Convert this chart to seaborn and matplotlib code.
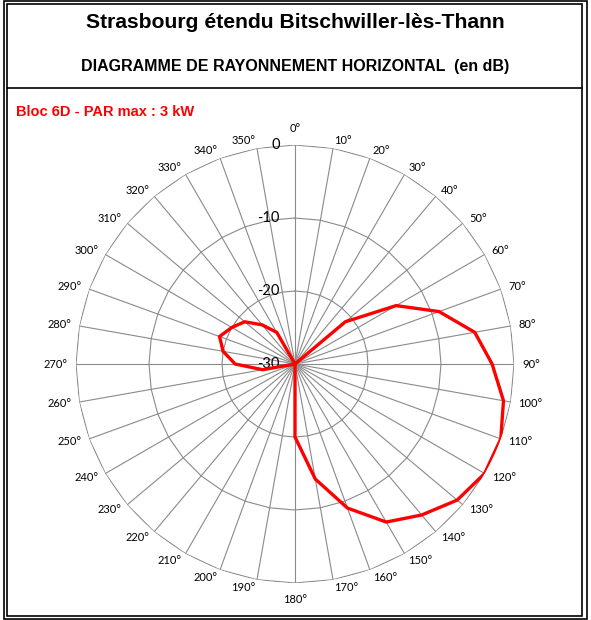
import numpy as np
import pandas as pd
import matplotlib
matplotlib.use("Agg")
import matplotlib.pyplot as plt
from matplotlib.patches import Rectangle
from matplotlib.lines import Line2D
import seaborn as sns

# Chart data
angles_deg = list(range(0, 360, 10))
gain_db = [-30, -30, -30, -30, -30, -21, -14, -9, -5, -3,
           -1, 0, 0, -1, -3, -5, -9, -14, -20, -30,
           -30, -30, -30, -30, -30, -30, -25.5, -21.8, -20, -19,
           -20, -21, -23, -25, -30, -30]
ring_levels = [-20, -10, 0]
r_labels = ["0", "-10", "-20", "-30"]
r_label_levels = [0, -10, -20, -30]
angle_labels = [f"{a}°" for a in angles_deg]

title = "Strasbourg étendu Bitschwiller-lès-Thann"
subtitle = "DIAGRAMME DE RAYONNEMENT HORIZONTAL  (en dB)"
series_name = "Bloc 6D - PAR max : 3 kW"

sns.set_style("white")
plt.rcParams['font.family'] = ['Lato', 'DejaVu Sans']
plt.rcParams['text.color'] = 'black'

W, H = 591, 620
fig = plt.figure(figsize=(W / 100, H / 100), dpi=100)

def fx(px):
    return px / W

def fy(py):
    return 1 - py / H

# polar axes: centre (295, 364), radius 219 px
cx, cy, R = 295, 364, 219
ax = fig.add_axes([fx(cx - R), fy(cy + R), 2 * R / W, 2 * R / H], projection='polar')
ax.set_theta_zero_location('N')
ax.set_theta_direction(-1)
ax.set_ylim(-30, 0)
ax.spines['polar'].set_visible(False)
ax.yaxis.grid(False)
ax.xaxis.grid(True, color='#8a8a8a', linewidth=0.8)
ax.set_yticks(r_label_levels)
ax.set_yticklabels([])

theta = np.deg2rad(angles_deg)
ax.set_xticks(theta)
ax.set_xticklabels([])
ax.tick_params(axis='x', length=0)

# polygonal rings like the Excel radar chart
theta_closed = np.append(theta, theta[0])
for lvl in ring_levels:
    ax.plot(theta_closed, [lvl] * len(theta_closed), color='#8a8a8a', linewidth=0.8, zorder=1)

# angle labels, anchored Excel-style just outside each spoke end
for t, lab in zip(theta, angle_labels):
    s, c = np.sin(t), np.cos(t)
    gap = 8
    if abs(s) < 1e-6:
        ha = 'center'
        gap = 16.5
    elif s > 0:
        ha = 'left'
    else:
        ha = 'right'
    ax.annotate(lab, xy=(t, 0), xytext=(s * gap, c * gap), textcoords='offset pixels',
                ha=ha, va='center', fontsize=8, color='black', annotation_clip=False)

for lab, lvl in zip(r_labels, r_label_levels):
    ax.annotate(lab, xy=(0, lvl), xytext=(-11, 0), textcoords='offset points',
                ha='right', va='center', fontsize=10.5, color='black')

# radiation pattern
df = pd.DataFrame({'theta': np.append(theta, theta[0]), 'gain': gain_db + [gain_db[0]]})
sns.lineplot(data=df, x='theta', y='gain', sort=False, color='#ff0000', linewidth=2.4, ax=ax, zorder=3)
ax.set_xlabel('')
ax.set_ylabel('')

# titles
fig.text(0.5, fy(22), title, ha='center', va='center', fontsize=15.2, fontweight='bold',
         color='black', family=['Liberation Sans', 'DejaVu Sans'])
fig.text(0.5, fy(67), subtitle, ha='center', va='center', fontsize=11.5, fontweight='bold',
         color='black', family=['Liberation Sans', 'DejaVu Sans'])
fig.text(fx(16), fy(112), series_name, ha='left', va='center', fontsize=10.5, fontweight='bold',
         color='#ff0000', family=['Liberation Sans', 'DejaVu Sans'])

# frame: double border and separator
fig.add_artist(Rectangle((fx(4), fy(619)), fx(587) - fx(4), fy(1) - fy(619),
                         transform=fig.transFigure, fill=False, edgecolor='black', linewidth=1.2))
fig.add_artist(Rectangle((fx(7), fy(616)), fx(582) - fx(7), fy(4) - fy(616),
                         transform=fig.transFigure, fill=False, edgecolor='black', linewidth=1.2))
fig.add_artist(Line2D([fx(7), fx(582)], [fy(88), fy(88)], transform=fig.transFigure,
                      color='black', linewidth=1.2))

fig.savefig('out.png', dpi=100)
